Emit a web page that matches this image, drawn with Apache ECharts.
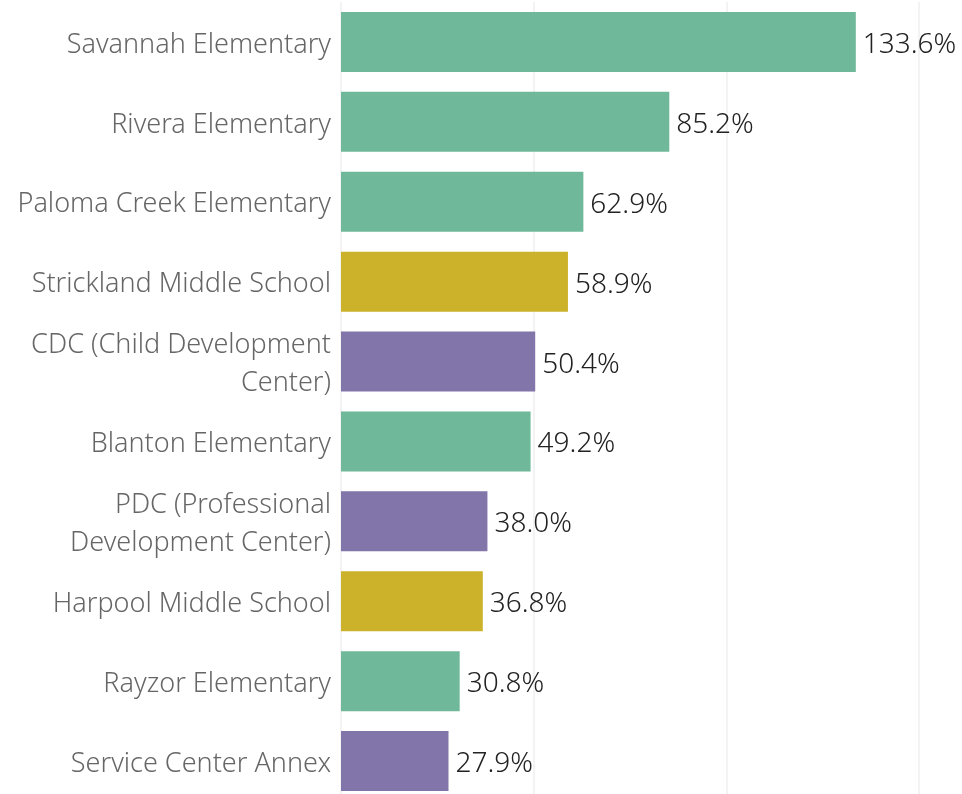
<!DOCTYPE html>
<html>
<head>
<meta charset="utf-8">
<script src="https://cdn.jsdelivr.net/npm/echarts@6/dist/echarts.min.js"></script>
<style>
	html, body { margin: 0; padding: 0; background: #fff; overflow: hidden; }
	#main { width: 962px; height: 802px; }
</style>
</head>
<body>
<div id="main"></div>
<script type="text/javascript">
	// 学校名称（从上到下）
	var schools = [
		'Savannah Elementary',
		'Rivera Elementary',
		'Paloma Creek Elementary',
		'Strickland Middle School',
		'CDC (Child Development\nCenter)',
		'Blanton Elementary',
		'PDC (Professional\nDevelopment Center)',
		'Harpool Middle School',
		'Rayzor Elementary',
		'Service Center Annex'
	];
	var pctValues = [133.6, 85.2, 62.9, 58.9, 50.4, 49.2, 38.0, 36.8, 30.8, 27.9];
	// 类型：elem / middle / other
	var schoolTypes = ['elem', 'elem', 'elem', 'middle', 'other', 'elem', 'other', 'middle', 'elem', 'other'];
	var typeColors = { elem: '#6fb899', middle: '#ccb22b', other: '#8175aa' };
	var xTicks = [0, 50, 100, 150];

	var myChart = echarts.init(document.getElementById('main'));
	var barData = [];
	for (var i = 0; i < pctValues.length; i++) {
		barData.push({
			value: pctValues[i],
			itemStyle: { color: typeColors[schoolTypes[i]] }
		});
	}

	myChart.setOption({
		animation: false,
		grid: {
			left: 341,
			right: 43,
			top: 2,
			bottom: 1
		},
		xAxis: {
			type: 'value',
			min: xTicks[0],
			max: xTicks[xTicks.length - 1],
			interval: 50,
			axisLine: { show: false },
			axisTick: { show: false },
			axisLabel: { show: false },
			splitLine: { show: true, lineStyle: { color: '#efefef', width: 1.5 } }
		},
		yAxis: {
			type: 'category',
			inverse: true,
			data: schools,
			axisLine: { show: false },
			axisTick: { show: false },
			axisLabel: {
				margin: 10,
				formatter: function (v) {
					// 每行单独包一层 rich，方便整体下移
					return v.split('\n').map(function (s) { return '{a|' + s + '}'; }).join('\n');
				},
				rich: {
					a: {
						color: '#666',
						fontSize: 27,
						fontWeight: 300,
						fontFamily: 'Noto Sans',
						lineHeight: 38,
						padding: [6, 0, 0, 0]
					}
				},
				align: 'right'
			}
		},
		series: [{
			type: 'bar',
			data: barData,
			barWidth: 60,
			label: {
				show: true,
				position: 'right',
				distance: 7,
				offset: [0, 3],
				color: '#222',
				fontSize: 28,
				fontWeight: 300,
				fontFamily: 'Noto Sans',
				formatter: function (p) {
					return p.value.toFixed(1) + '%';
				}
			}
		}]
	});
</script>
</body>
</html>
